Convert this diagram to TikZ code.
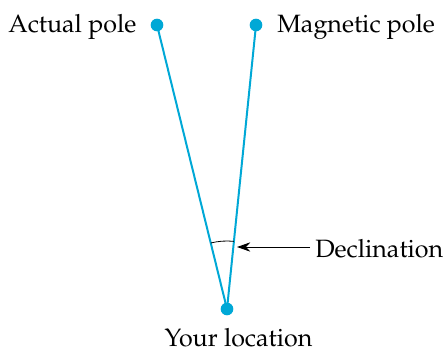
\documentclass[tikz,border=0pt]{standalone}
\usepackage[T1]{fontenc}
\renewcommand{\rmdefault}{ppl}
\usetikzlibrary{arrows.meta}
\definecolor{polecyan}{HTML}{00A8D6}
\begin{document}
\begin{tikzpicture}[x=0.75pt,y=-0.75pt,
  line/.style={polecyan,line width=1.5pt},
  dot/.style={circle,fill=polecyan,inner sep=0pt,minimum size=9.5pt},
  lbl/.style={font=\fontsize{18.8}{22}\selectfont,inner sep=0pt}]
\useasboundingbox (0,0) rectangle (445,350);
\node[dot] (ap) at (157,25) {};
\node[dot] (mp) at (256,25) {};
\node[dot] (yl) at (227,309) {};
\draw[line] (ap.center) -- (yl.center);
\draw[line] (mp.center) -- (yl.center);
\node[lbl,anchor=base west] (apl) at (8,32) {Actual pole};
\node[lbl,anchor=base west] (mpl) at (277,32) {Magnetic pole};
\node[lbl,anchor=base] (yll) at (238.5,346.5) {Your location};
\node[lbl,anchor=base west] (dl) at (315,257) {Declination};
\draw[black,line width=0.6pt] (yl.center) ++(103.85:51pt) arc[start angle=103.85,end angle=84.17,radius=51pt];
\coordinate (tip) at (237,247);
\coordinate (tail) at (310,247);
\draw[black,line width=0.7pt,-{Stealth[length=10pt,width=7pt]}] (tail) -- (tip);
\end{tikzpicture}
\end{document}
